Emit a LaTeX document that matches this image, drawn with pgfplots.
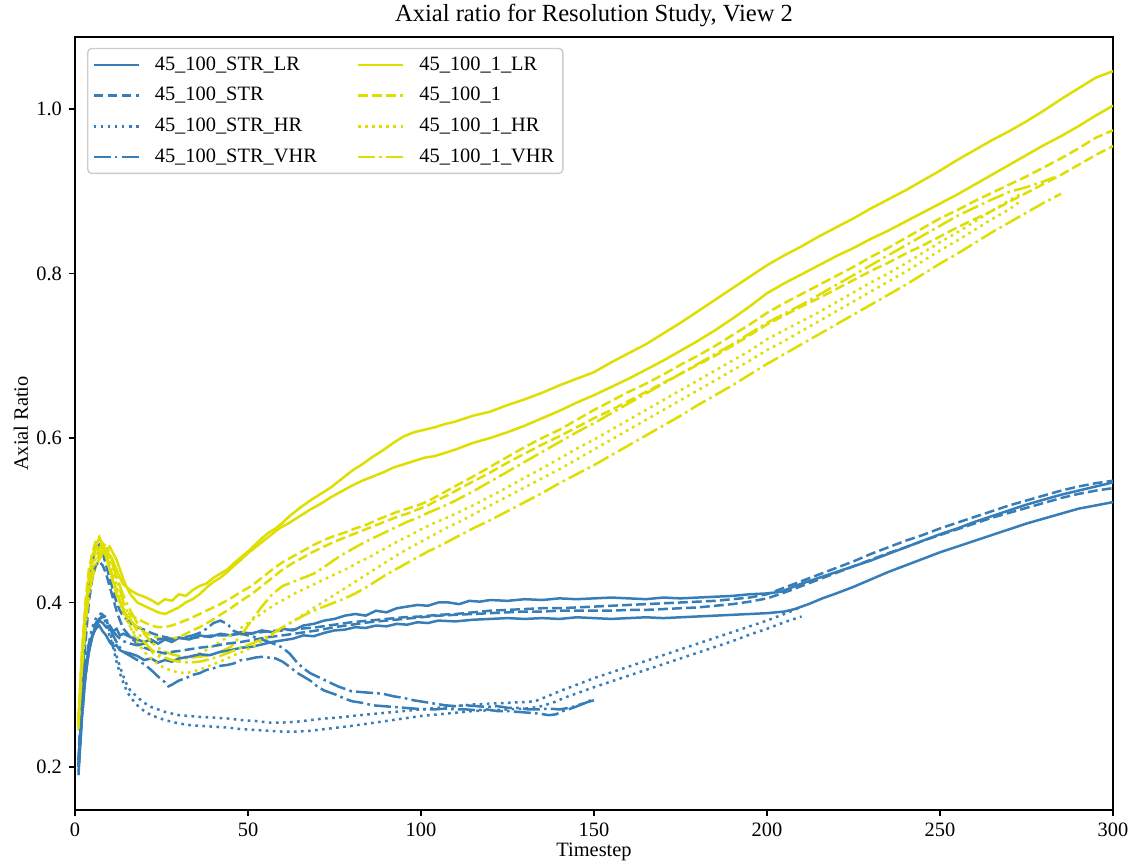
\documentclass[border=0pt]{standalone}
\usepackage{fontspec}
\setmainfont{Liberation Serif}
\usepackage{pgfplots}
\pgfplotsset{compat=1.18}
\definecolor{cblue}{RGB}{55,126,184}
\definecolor{cyel}{RGB}{222,222,0}
\tikzset{
 sline/.style={line width=1.25pt, solid},
 dline/.style={line width=1.25pt, dash pattern=on 4.9pt off 2.1pt},
 pline/.style={line width=1.25pt, dash pattern=on 1.33pt off 2.2pt},
 ddline/.style={line width=1.25pt, dash pattern=on 8.5pt off 2.1pt on 1.33pt off 2.1pt},
}
\begin{document}
\begin{tikzpicture}
\begin{axis}[
 name=ax,
 scale only axis,
 width=519pt, height=386.5pt,
 xmin=0, xmax=300, ymin=0.1477, ymax=1.0875,
 xtick={0,50,100,150,200,250,300},
 ytick={0.2,0.4,0.6,0.8,1.0},
 yticklabel style={/pgf/number format/.cd, fixed, fixed zerofill, precision=1},
 /pgf/number format/assume math mode=true,
 font=\fontsize{10.2}{12.2}\selectfont,
 tick align=outside, xtick pos=bottom, ytick pos=left,
 major tick length=3pt,
 every tick/.style={black, line width=0.7pt},
 axis line style={line width=0.7pt},
 title={Axial ratio for Resolution Study, View 2},
 every axis title/.style={at={(axis description cs:0.5,1.0272)}, anchor=center, font=\fontsize{12.3}{14.7}\selectfont},
 xlabel={Timestep},
 ylabel={Axial Ratio},
 every axis x label/.style={at={(axis description cs:0.5,-0.0543)}, anchor=center},
 every axis y label/.style={at={(axis description cs:-0.052,0.5)}, anchor=center, rotate=90},
 legend columns=2,
 legend cell align=left,
 legend image code/.code={\draw[#1] (0pt,0pt) -- (22.5pt,0pt);},
 legend style={at={(0.0116,0.986)}, anchor=north west, draw=black!20, line width=0.7pt, rounded corners=2pt,
   fill=white, fill opacity=0.8, text opacity=1, inner xsep=2.3pt, inner ysep=2pt, row sep=3.1pt,
   font=\fontsize{10.2}{12.2}\selectfont,
   /tikz/every odd column/.append style={column sep=5.5pt},
   /tikz/every even column/.append style={column sep=18pt}},
]
% ---- first copies (with legend) ----
\addplot[cblue, sline] coordinates {(1,0.19)(2,0.26)(3,0.31)(4,0.34)(5,0.358)(6,0.37)(7,0.378)(8,0.375)(9,0.37)(10,0.372)(11,0.365)(12,0.368)(13,0.36)(14,0.362)(16,0.358)(18,0.355)(20,0.352)(22,0.355)(24,0.35)(26,0.355)(28,0.352)(30,0.357)(33,0.355)(36,0.36)(39,0.358)(42,0.362)(45,0.36)(48,0.364)(51,0.362)(54,0.366)(57,0.364)(60,0.368)(63,0.366)(66,0.372)(69,0.374)(72,0.378)(75,0.38)(78,0.384)(81,0.386)(84,0.384)(87,0.39)(90,0.388)(93,0.393)(96,0.395)(99,0.397)(102,0.396)(105,0.4)(108,0.4)(111,0.398)(114,0.402)(117,0.401)(120,0.403)(125,0.402)(130,0.404)(135,0.403)(140,0.405)(145,0.404)(150,0.405)(155,0.406)(160,0.405)(165,0.404)(170,0.406)(175,0.405)(180,0.406)(185,0.407)(190,0.408)(195,0.41)(200,0.411)(204,0.413)(207,0.418)(210,0.423)(215,0.43)(220,0.437)(225,0.444)(230,0.451)(235,0.459)(240,0.467)(245,0.475)(250,0.483)(255,0.49)(260,0.498)(265,0.505)(270,0.512)(275,0.519)(280,0.525)(285,0.531)(290,0.536)(295,0.541)(300,0.546)};
\addlegendentry{45\_100\_STR\_LR}
\addplot[cyel, sline] coordinates {(1,0.25)(2,0.33)(3,0.39)(4,0.43)(5,0.455)(6,0.47)(7,0.478)(8,0.47)(9,0.462)(10,0.458)(11,0.45)(12,0.44)(13,0.43)(14,0.422)(16,0.415)(18,0.41)(20,0.407)(22,0.403)(24,0.398)(26,0.404)(28,0.402)(30,0.41)(32,0.408)(34,0.415)(36,0.42)(38,0.423)(40,0.43)(42,0.435)(44,0.44)(46,0.448)(48,0.455)(50,0.462)(52,0.47)(54,0.478)(56,0.485)(58,0.49)(60,0.497)(62,0.505)(65,0.515)(68,0.524)(71,0.532)(74,0.54)(77,0.55)(80,0.56)(83,0.568)(86,0.577)(89,0.585)(92,0.594)(95,0.602)(98,0.607)(101,0.61)(104,0.613)(107,0.617)(110,0.62)(115,0.627)(120,0.632)(125,0.64)(130,0.647)(135,0.655)(140,0.664)(145,0.672)(150,0.68)(155,0.692)(160,0.703)(165,0.714)(170,0.727)(175,0.74)(180,0.754)(185,0.768)(190,0.782)(195,0.796)(200,0.81)(205,0.822)(210,0.833)(215,0.845)(220,0.856)(225,0.867)(230,0.879)(235,0.89)(240,0.901)(245,0.913)(250,0.925)(255,0.938)(260,0.95)(265,0.962)(270,0.973)(275,0.985)(280,0.998)(285,1.012)(290,1.025)(295,1.038)(300,1.046)};
\addlegendentry{45\_100\_1\_LR}
\addplot[cblue, dline] coordinates {(1,0.21)(2,0.3)(3,0.37)(4,0.42)(5,0.45)(6,0.465)(7,0.47)(8,0.46)(9,0.445)(10,0.43)(11,0.415)(12,0.4)(13,0.39)(14,0.383)(16,0.375)(18,0.37)(20,0.367)(22,0.363)(24,0.36)(26,0.358)(28,0.356)(30,0.357)(33,0.356)(36,0.358)(40,0.36)(44,0.36)(48,0.362)(52,0.363)(56,0.365)(60,0.366)(65,0.368)(70,0.37)(75,0.373)(80,0.376)(85,0.378)(90,0.38)(95,0.382)(100,0.383)(105,0.385)(110,0.386)(115,0.388)(120,0.39)(125,0.391)(130,0.392)(135,0.393)(140,0.393)(145,0.394)(150,0.395)(155,0.396)(160,0.397)(165,0.398)(170,0.399)(175,0.4)(180,0.401)(185,0.402)(190,0.404)(195,0.406)(200,0.41)(205,0.418)(210,0.426)(215,0.434)(220,0.442)(225,0.45)(230,0.459)(235,0.467)(240,0.475)(245,0.482)(250,0.49)(255,0.497)(260,0.504)(265,0.511)(270,0.518)(275,0.524)(280,0.53)(285,0.536)(290,0.541)(295,0.545)(300,0.548)};
\addlegendentry{45\_100\_STR}
\addplot[cyel, dline] coordinates {(1,0.26)(2,0.34)(3,0.4)(4,0.44)(5,0.46)(6,0.475)(7,0.48)(8,0.47)(9,0.455)(10,0.44)(11,0.425)(12,0.41)(13,0.4)(14,0.392)(16,0.385)(18,0.38)(20,0.376)(22,0.372)(24,0.37)(26,0.37)(28,0.372)(30,0.375)(33,0.38)(36,0.386)(39,0.392)(42,0.398)(45,0.405)(48,0.413)(51,0.42)(54,0.43)(57,0.44)(60,0.449)(63,0.456)(66,0.463)(69,0.47)(72,0.476)(75,0.481)(78,0.485)(81,0.49)(84,0.494)(87,0.5)(90,0.505)(93,0.51)(96,0.514)(99,0.518)(102,0.523)(105,0.53)(108,0.537)(111,0.544)(115,0.553)(120,0.565)(125,0.577)(130,0.589)(135,0.6)(140,0.61)(145,0.622)(150,0.634)(155,0.645)(160,0.656)(165,0.666)(170,0.677)(175,0.689)(180,0.7)(185,0.712)(190,0.725)(195,0.738)(200,0.752)(205,0.764)(210,0.775)(215,0.786)(220,0.797)(225,0.808)(230,0.82)(235,0.831)(240,0.843)(245,0.855)(250,0.867)(255,0.877)(260,0.888)(265,0.898)(270,0.908)(275,0.918)(280,0.929)(285,0.94)(290,0.952)(295,0.965)(300,0.974)};
\addlegendentry{45\_100\_1}
\addplot[cblue, pline] coordinates {(1,0.2)(2,0.27)(3,0.32)(4,0.35)(5,0.37)(6,0.38)(7,0.385)(8,0.388)(9,0.38)(10,0.365)(11,0.35)(12,0.335)(13,0.322)(14,0.31)(15,0.3)(16,0.293)(18,0.285)(20,0.278)(22,0.273)(24,0.27)(26,0.267)(28,0.265)(30,0.263)(33,0.262)(36,0.261)(40,0.26)(44,0.259)(48,0.257)(52,0.256)(56,0.254)(60,0.254)(64,0.255)(68,0.257)(72,0.259)(76,0.26)(80,0.262)(85,0.264)(90,0.266)(95,0.268)(100,0.27)(105,0.272)(110,0.274)(115,0.276)(120,0.277)(125,0.278)(130,0.279)(133,0.28)(136,0.285)(140,0.292)(145,0.3)(150,0.308)(155,0.315)(160,0.322)(165,0.329)(170,0.336)(175,0.343)(180,0.35)(185,0.357)(190,0.364)(195,0.371)(200,0.378)(205,0.386)(209,0.393)};
\addlegendentry{45\_100\_STR\_HR}
\addplot[cyel, pline] coordinates {(1,0.26)(2,0.34)(3,0.39)(4,0.43)(5,0.45)(6,0.462)(7,0.47)(8,0.465)(9,0.455)(10,0.44)(11,0.425)(12,0.41)(13,0.398)(14,0.387)(16,0.37)(18,0.357)(20,0.347)(22,0.34)(24,0.335)(26,0.332)(28,0.33)(30,0.33)(32,0.332)(34,0.335)(37,0.34)(40,0.347)(43,0.355)(46,0.363)(49,0.372)(52,0.381)(55,0.39)(58,0.398)(61,0.405)(64,0.412)(67,0.418)(70,0.424)(73,0.43)(76,0.436)(79,0.442)(82,0.449)(85,0.455)(88,0.462)(91,0.469)(94,0.476)(97,0.482)(100,0.489)(104,0.497)(108,0.504)(112,0.512)(116,0.52)(120,0.529)(125,0.54)(130,0.552)(135,0.563)(140,0.575)(145,0.587)(150,0.598)(155,0.61)(160,0.622)(165,0.634)(170,0.646)(175,0.658)(180,0.67)(185,0.682)(190,0.694)(195,0.706)(200,0.72)(205,0.731)(210,0.742)(215,0.753)(220,0.765)(225,0.777)(230,0.789)(235,0.8)(240,0.812)(245,0.825)(250,0.838)(255,0.85)(260,0.863)(265,0.876)(270,0.889)(274,0.898)};
\addlegendentry{45\_100\_1\_HR}
\addplot[cblue, ddline] coordinates {(1,0.2)(2,0.27)(3,0.32)(4,0.35)(5,0.365)(6,0.375)(7,0.38)(8,0.383)(9,0.378)(10,0.37)(11,0.36)(12,0.352)(13,0.345)(14,0.34)(16,0.335)(18,0.33)(20,0.325)(22,0.318)(24,0.31)(26,0.303)(27,0.298)(28,0.3)(30,0.305)(32,0.308)(34,0.312)(36,0.314)(38,0.318)(40,0.32)(42,0.323)(44,0.324)(46,0.326)(48,0.33)(50,0.331)(52,0.333)(54,0.334)(56,0.333)(58,0.332)(60,0.328)(62,0.322)(64,0.315)(66,0.31)(68,0.305)(70,0.298)(72,0.293)(74,0.29)(76,0.287)(78,0.283)(80,0.28)(83,0.278)(86,0.275)(89,0.274)(92,0.273)(95,0.272)(98,0.271)(101,0.27)(104,0.27)(107,0.271)(110,0.27)(113,0.27)(116,0.269)(119,0.27)(122,0.268)(125,0.268)(128,0.267)(131,0.266)(134,0.265)(137,0.263)(139,0.264)(141,0.268)(144,0.272)(147,0.277)(150,0.283)};
\addlegendentry{45\_100\_STR\_VHR}
\addplot[cyel, ddline] coordinates {(1,0.255)(2,0.33)(3,0.385)(4,0.42)(5,0.44)(6,0.455)(7,0.465)(8,0.472)(9,0.468)(10,0.46)(11,0.45)(12,0.435)(13,0.42)(14,0.408)(16,0.39)(18,0.375)(20,0.362)(22,0.352)(24,0.345)(26,0.34)(28,0.337)(30,0.335)(33,0.333)(36,0.334)(39,0.336)(42,0.34)(45,0.346)(48,0.36)(51,0.378)(54,0.395)(57,0.41)(60,0.42)(63,0.425)(66,0.43)(69,0.435)(72,0.443)(75,0.452)(78,0.46)(81,0.467)(84,0.474)(87,0.48)(90,0.486)(93,0.492)(96,0.498)(99,0.503)(102,0.509)(106,0.516)(110,0.524)(115,0.535)(120,0.547)(125,0.559)(130,0.571)(135,0.583)(140,0.595)(145,0.607)(150,0.618)(155,0.63)(160,0.642)(165,0.654)(170,0.666)(175,0.678)(180,0.69)(185,0.702)(190,0.714)(195,0.727)(200,0.74)(205,0.751)(210,0.762)(215,0.774)(220,0.786)(225,0.798)(230,0.81)(235,0.822)(240,0.834)(245,0.846)(250,0.858)(255,0.87)(260,0.88)(265,0.89)(270,0.899)(275,0.905)(280,0.912)(283,0.917)};
\addlegendentry{45\_100\_1\_VHR}
% ---- second copies ----
\addplot[cblue, sline, forget plot] coordinates {(1,0.2)(2,0.27)(3,0.32)(4,0.345)(5,0.36)(6,0.368)(7,0.372)(8,0.365)(9,0.36)(10,0.352)(11,0.347)(12,0.348)(13,0.342)(14,0.34)(16,0.338)(18,0.335)(20,0.33)(22,0.332)(24,0.327)(26,0.33)(28,0.328)(30,0.332)(33,0.334)(36,0.337)(39,0.336)(42,0.34)(45,0.342)(48,0.345)(51,0.346)(54,0.349)(57,0.352)(60,0.354)(63,0.356)(66,0.36)(69,0.359)(72,0.363)(75,0.366)(78,0.367)(81,0.37)(84,0.369)(87,0.372)(90,0.371)(93,0.374)(96,0.373)(99,0.376)(102,0.375)(105,0.378)(110,0.377)(115,0.379)(120,0.38)(125,0.381)(130,0.38)(135,0.381)(140,0.38)(145,0.382)(150,0.381)(155,0.38)(160,0.381)(165,0.382)(170,0.381)(175,0.382)(180,0.383)(185,0.384)(190,0.385)(195,0.386)(200,0.387)(205,0.389)(208,0.392)(212,0.398)(216,0.405)(220,0.411)(225,0.419)(230,0.428)(235,0.437)(240,0.445)(245,0.453)(250,0.461)(255,0.468)(260,0.475)(265,0.482)(270,0.489)(275,0.496)(280,0.502)(285,0.508)(290,0.514)(295,0.518)(300,0.522)};
\addplot[cyel, sline, forget plot] coordinates {(1,0.245)(2,0.32)(3,0.37)(4,0.41)(5,0.43)(6,0.445)(7,0.452)(8,0.46)(9,0.463)(10,0.468)(11,0.46)(12,0.452)(13,0.44)(14,0.428)(15,0.418)(16,0.41)(18,0.4)(20,0.396)(22,0.392)(24,0.388)(26,0.386)(28,0.39)(30,0.394)(32,0.4)(34,0.404)(36,0.41)(38,0.418)(40,0.425)(42,0.43)(44,0.437)(46,0.445)(48,0.452)(50,0.46)(53,0.47)(56,0.48)(59,0.49)(62,0.497)(65,0.505)(68,0.513)(71,0.52)(74,0.528)(77,0.535)(80,0.542)(83,0.548)(86,0.553)(89,0.558)(92,0.564)(95,0.568)(98,0.572)(101,0.576)(104,0.578)(107,0.582)(110,0.586)(115,0.594)(120,0.6)(125,0.607)(130,0.615)(135,0.624)(140,0.633)(145,0.643)(150,0.652)(155,0.662)(160,0.672)(165,0.683)(170,0.694)(175,0.706)(180,0.718)(185,0.731)(190,0.745)(195,0.76)(200,0.776)(205,0.788)(210,0.799)(215,0.81)(220,0.821)(225,0.831)(230,0.842)(235,0.852)(240,0.863)(245,0.874)(250,0.885)(255,0.896)(260,0.908)(265,0.92)(270,0.932)(275,0.944)(280,0.956)(285,0.967)(290,0.979)(295,0.992)(300,1.004)};
\addplot[cblue, dline, forget plot] coordinates {(1,0.2)(2,0.28)(3,0.35)(4,0.4)(5,0.43)(6,0.445)(7,0.45)(8,0.445)(9,0.435)(10,0.42)(11,0.405)(12,0.39)(13,0.378)(14,0.368)(16,0.358)(18,0.35)(20,0.345)(22,0.342)(24,0.34)(26,0.338)(28,0.34)(30,0.341)(33,0.343)(36,0.345)(40,0.347)(44,0.35)(48,0.352)(52,0.355)(56,0.358)(60,0.36)(65,0.363)(70,0.366)(75,0.37)(80,0.373)(85,0.376)(90,0.378)(95,0.38)(100,0.382)(105,0.384)(110,0.385)(115,0.386)(120,0.387)(125,0.388)(130,0.389)(135,0.389)(140,0.39)(145,0.39)(150,0.39)(155,0.39)(160,0.391)(165,0.391)(170,0.392)(175,0.393)(180,0.394)(185,0.396)(190,0.398)(195,0.401)(200,0.405)(205,0.412)(210,0.42)(215,0.428)(220,0.436)(225,0.444)(230,0.452)(235,0.46)(240,0.467)(245,0.475)(250,0.482)(255,0.489)(260,0.496)(265,0.503)(270,0.509)(275,0.515)(280,0.521)(285,0.527)(290,0.532)(295,0.536)(300,0.539)};
\addplot[cyel, dline, forget plot] coordinates {(1,0.255)(2,0.33)(3,0.39)(4,0.425)(5,0.45)(6,0.465)(7,0.472)(8,0.468)(9,0.458)(10,0.445)(11,0.43)(12,0.415)(13,0.402)(14,0.39)(16,0.378)(18,0.37)(20,0.364)(22,0.36)(24,0.357)(26,0.355)(28,0.356)(30,0.358)(33,0.364)(36,0.37)(39,0.377)(42,0.385)(45,0.393)(48,0.402)(51,0.41)(54,0.42)(57,0.43)(60,0.44)(63,0.448)(66,0.455)(69,0.462)(72,0.468)(75,0.474)(78,0.479)(81,0.484)(84,0.489)(87,0.494)(90,0.499)(93,0.504)(96,0.508)(99,0.513)(102,0.518)(105,0.525)(108,0.531)(111,0.538)(115,0.547)(120,0.558)(125,0.57)(130,0.581)(135,0.592)(140,0.602)(145,0.613)(150,0.624)(155,0.634)(160,0.645)(165,0.656)(170,0.667)(175,0.678)(180,0.689)(185,0.7)(190,0.712)(195,0.725)(200,0.738)(205,0.749)(210,0.76)(215,0.77)(220,0.781)(225,0.792)(230,0.803)(235,0.813)(240,0.824)(245,0.834)(250,0.845)(255,0.856)(260,0.866)(265,0.876)(270,0.887)(275,0.898)(280,0.909)(285,0.92)(290,0.932)(295,0.944)(300,0.955)};
\addplot[cblue, pline, forget plot] coordinates {(1,0.195)(2,0.26)(3,0.31)(4,0.34)(5,0.36)(6,0.372)(7,0.38)(8,0.383)(9,0.375)(10,0.36)(11,0.345)(12,0.328)(13,0.314)(14,0.302)(15,0.292)(16,0.285)(18,0.275)(20,0.268)(22,0.263)(24,0.26)(26,0.257)(28,0.255)(30,0.253)(33,0.251)(36,0.25)(40,0.249)(44,0.248)(48,0.246)(52,0.245)(56,0.244)(60,0.243)(64,0.243)(68,0.244)(72,0.246)(76,0.248)(80,0.25)(85,0.253)(90,0.256)(95,0.259)(100,0.262)(105,0.264)(110,0.266)(115,0.268)(120,0.269)(125,0.27)(130,0.271)(134,0.273)(138,0.278)(142,0.285)(146,0.291)(150,0.297)(155,0.304)(160,0.311)(165,0.318)(170,0.325)(175,0.332)(180,0.339)(185,0.346)(190,0.353)(195,0.361)(200,0.368)(205,0.376)(210,0.383)};
\addplot[cyel, pline, forget plot] coordinates {(1,0.255)(2,0.33)(3,0.38)(4,0.42)(5,0.44)(6,0.455)(7,0.462)(8,0.47)(9,0.465)(10,0.452)(11,0.437)(12,0.42)(13,0.405)(14,0.39)(16,0.37)(18,0.352)(20,0.34)(22,0.332)(24,0.325)(26,0.32)(28,0.317)(30,0.315)(32,0.314)(34,0.316)(37,0.32)(40,0.325)(43,0.33)(46,0.336)(49,0.341)(52,0.348)(55,0.355)(58,0.363)(61,0.372)(64,0.38)(67,0.388)(70,0.396)(73,0.404)(76,0.412)(79,0.42)(82,0.428)(85,0.436)(88,0.444)(91,0.452)(94,0.46)(97,0.467)(100,0.474)(104,0.483)(108,0.492)(112,0.5)(116,0.509)(120,0.518)(125,0.529)(130,0.54)(135,0.551)(140,0.562)(145,0.574)(150,0.586)(155,0.598)(160,0.61)(165,0.622)(170,0.634)(175,0.646)(180,0.658)(185,0.67)(190,0.682)(195,0.694)(200,0.707)(205,0.718)(210,0.73)(215,0.742)(220,0.754)(225,0.766)(230,0.778)(235,0.79)(240,0.802)(245,0.815)(250,0.828)(255,0.84)(260,0.853)(265,0.866)(270,0.878)(273,0.887)};
\addplot[cblue, ddline, forget plot] coordinates {(1,0.2)(2,0.26)(3,0.31)(4,0.34)(5,0.36)(6,0.372)(7,0.378)(8,0.385)(9,0.38)(10,0.372)(11,0.365)(12,0.36)(13,0.356)(14,0.353)(16,0.35)(18,0.348)(20,0.35)(22,0.352)(24,0.355)(26,0.356)(28,0.355)(30,0.357)(32,0.358)(34,0.36)(36,0.363)(38,0.368)(40,0.375)(42,0.378)(44,0.374)(46,0.365)(48,0.362)(50,0.36)(52,0.358)(54,0.355)(56,0.352)(58,0.349)(60,0.345)(62,0.338)(64,0.328)(66,0.32)(68,0.314)(70,0.31)(72,0.306)(74,0.302)(76,0.298)(78,0.295)(80,0.292)(83,0.291)(86,0.29)(89,0.289)(92,0.286)(95,0.284)(98,0.281)(101,0.279)(104,0.277)(107,0.275)(110,0.274)(113,0.275)(116,0.274)(119,0.273)(122,0.274)(125,0.272)(128,0.272)(131,0.27)(134,0.27)(137,0.271)(140,0.27)(143,0.272)(146,0.276)(149,0.28)(150,0.281)};
\addplot[cyel, ddline, forget plot] coordinates {(1,0.25)(2,0.32)(3,0.37)(4,0.41)(5,0.43)(6,0.448)(7,0.458)(8,0.465)(9,0.462)(10,0.455)(11,0.445)(12,0.43)(13,0.415)(14,0.4)(16,0.38)(18,0.365)(20,0.352)(22,0.343)(24,0.337)(26,0.333)(28,0.33)(30,0.328)(33,0.327)(36,0.328)(39,0.331)(42,0.335)(45,0.34)(48,0.345)(51,0.35)(54,0.355)(57,0.362)(60,0.37)(63,0.377)(66,0.384)(69,0.39)(72,0.395)(75,0.4)(78,0.405)(81,0.411)(84,0.418)(87,0.426)(90,0.434)(93,0.441)(96,0.448)(99,0.455)(102,0.462)(106,0.47)(110,0.479)(115,0.49)(120,0.5)(125,0.511)(130,0.522)(135,0.533)(140,0.545)(145,0.556)(150,0.567)(155,0.579)(160,0.591)(165,0.603)(170,0.615)(175,0.627)(180,0.64)(185,0.652)(190,0.664)(195,0.677)(200,0.69)(205,0.702)(210,0.714)(215,0.726)(220,0.738)(225,0.75)(230,0.762)(235,0.774)(240,0.786)(245,0.799)(250,0.812)(255,0.824)(260,0.837)(265,0.85)(270,0.862)(275,0.874)(280,0.886)(285,0.897)};
\end{axis}
\pgfresetboundingbox
\path[use as bounding box] ([shift={(-37.5pt,-28.5pt)}]ax.south west) rectangle ([shift={(9.5pt,18.5pt)}]ax.north east);
\end{tikzpicture}
\end{document}
